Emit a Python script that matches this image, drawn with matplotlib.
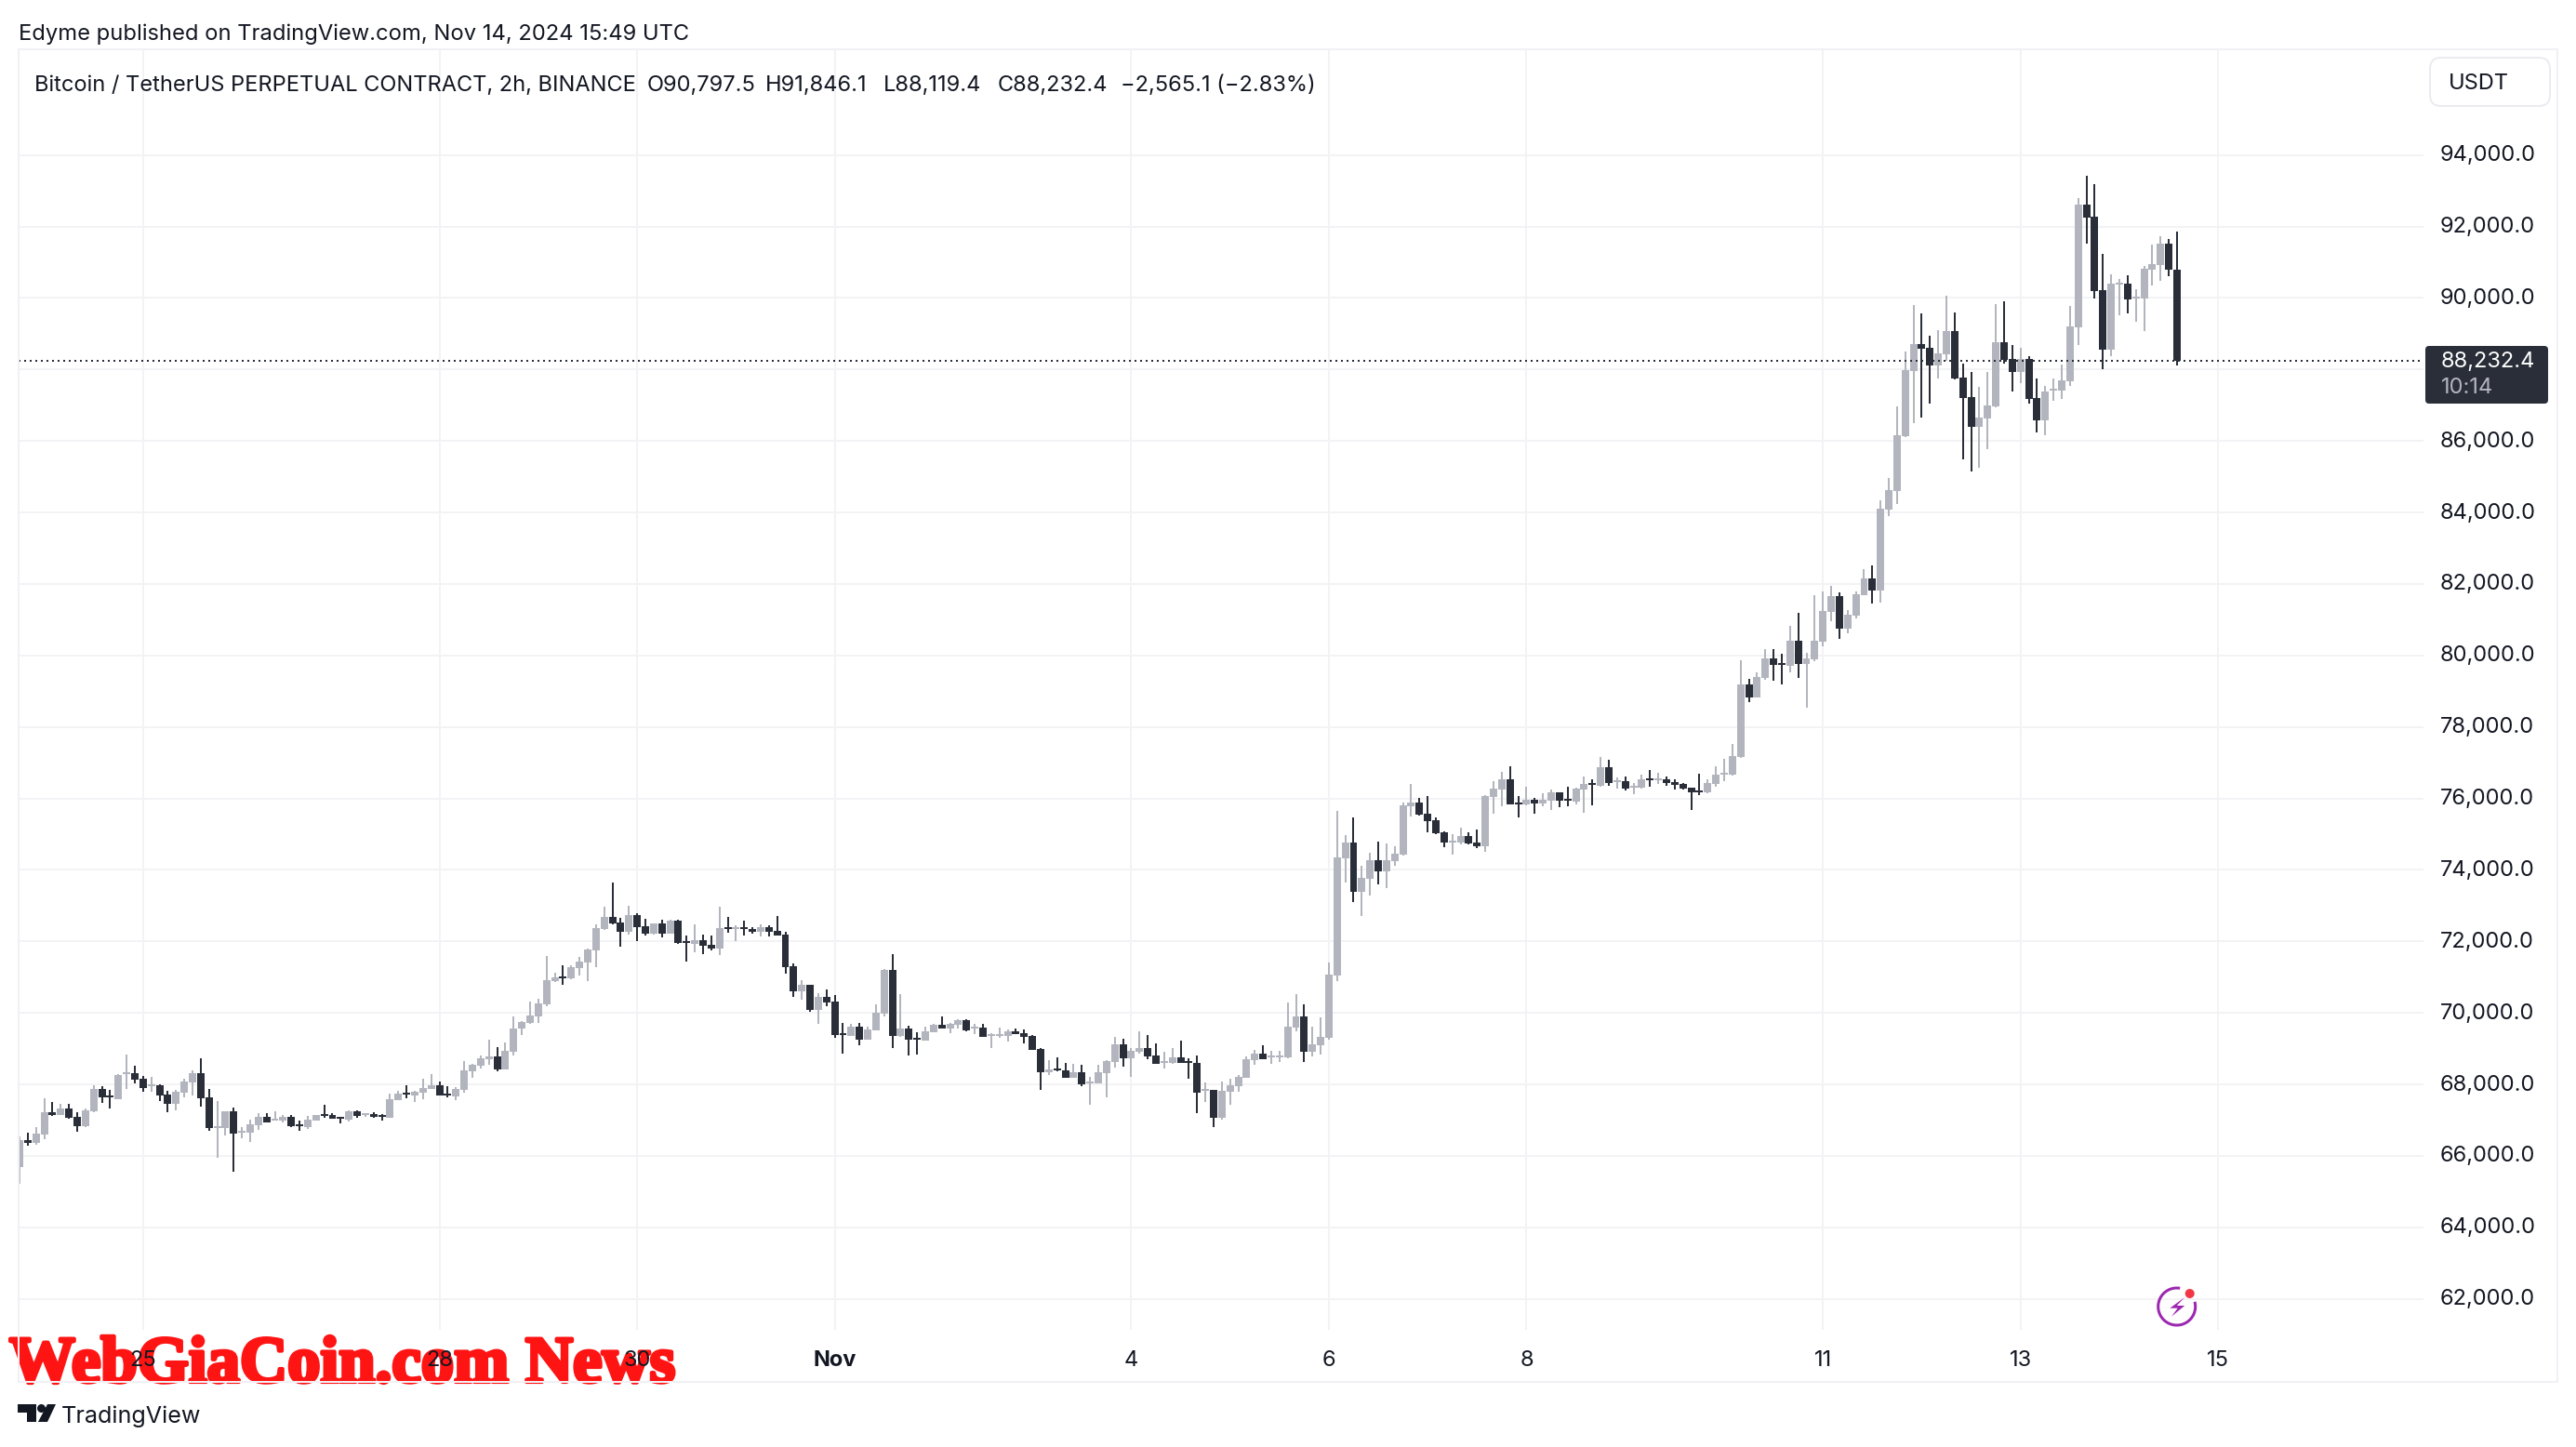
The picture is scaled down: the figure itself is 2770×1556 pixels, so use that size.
import matplotlib
matplotlib.use('Agg')
import matplotlib.pyplot as plt
import matplotlib.patheffects as pe
from matplotlib.patches import Rectangle, FancyBboxPatch, Polygon, Circle, Arc
from matplotlib.transforms import ScaledTranslation
import numpy as np

# BTCUSDT perpetual, 2h candles
opens = [
    65686, 66440, 66362, 66596, 67221, 67143, 67325, 67091, 66831, 67247,
    67871, 67689, 67585, 68287, 68313, 68157, 67958, 67975, 67715, 67455,
    67767, 68053, 68313, 67637, 66778, 66778, 67247, 66648, 66648, 66857,
    67091, 66987, 66987, 67091, 66883, 66804, 66987, 67169, 67143, 67091,
    67013, 67247, 67143, 67169, 67143, 67065, 67559, 67767, 67689, 67767,
    67872, 67976, 67742, 67664, 67846, 68366, 68522, 68705, 68783, 68418,
    68913, 69563, 69719, 69901, 70240, 70890, 71020, 70968, 71254, 71410,
    71749, 72347, 72685, 72529, 72269, 72737, 72425, 72217, 72503, 72217,
    72581, 72009, 71931, 72035, 71905, 71801, 72399, 72347, 72399, 72347,
    72269, 72399, 72295, 72191, 71306, 70604, 70786, 70083, 70448, 70318,
    69432, 69354, 69614, 69250, 69510, 69979, 71201, 69354, 69562, 69302,
    69224, 69458, 69666, 69562, 69666, 69796, 69562, 69588, 69354, 69354,
    69354, 69484, 69432, 69354, 68990, 68340, 68444, 68392, 68183, 68340,
    68027, 68027, 68314, 68626, 69120, 68730, 68912, 69016, 68808, 68600,
    68600, 68756, 68652, 68600, 67819, 67845, 67065, 67793, 67949, 68184,
    68678, 68861, 68757, 68757, 68757, 69589, 69901, 68913, 69095, 69303,
    71046, 74324, 74766, 73387, 73752, 74272, 73960, 74246, 74428, 75780,
    75884, 75572, 75391, 75052, 74766, 74766, 74948, 74766, 74662, 76040,
    76248, 76535, 75884, 75832, 75962, 75858, 75936, 76170, 75988, 75910,
    76248, 76431, 76352, 76873, 76457, 76483, 76300, 76300, 76561, 76509,
    76535, 76457, 76404, 76300, 76222, 76170, 76404, 76665, 76665, 77159,
    79188, 78824, 79370, 79917, 79787, 79709, 80411, 79761, 79891, 80385,
    81217, 81660, 80749, 81113, 81687, 82155, 81817, 84080, 84600, 86135,
    87956, 88711, 88607, 88113, 88425, 89075, 87774, 87228, 86395, 86630,
    86968, 88763, 88295, 87930, 88295, 87202, 86578, 87410, 87410, 87670,
    89179, 92613, 92275, 90220, 88555, 90376, 90402, 89986, 89986, 90792,
    90922, 91521, 90797.5,
]
highs = [
    66544, 66640, 66796, 67602, 67507, 67455, 67455, 67221, 67325, 67975,
    67949, 67845, 68287, 68834, 68522, 68235, 68209, 68001, 67819, 67845,
    68157, 68392, 68730, 67871, 67533, 67247, 67351, 66804, 67013, 67195,
    67195, 67247, 67143, 67143, 66987, 67117, 67143, 67429, 67195, 67091,
    67273, 67273, 67195, 67221, 67169, 67741, 67819, 67975, 67819, 68157,
    68288, 68080, 67950, 67924, 68653, 68575, 68809, 69251, 69043, 69173,
    69901, 69771, 70318, 70396, 71592, 71124, 71332, 71332, 71566, 71801,
    72477, 72971, 73648, 72659, 72997, 72789, 72633, 72503, 72607, 72607,
    72607, 72165, 72477, 72191, 72165, 72971, 72685, 72451, 72581, 72399,
    72477, 72451, 72711, 72269, 71384, 70916, 70786, 70552, 70656, 70500,
    69718, 69692, 69718, 69614, 70239, 71227, 71644, 70525, 69640, 69458,
    69614, 69692, 69901, 69718, 69822, 69822, 69692, 69692, 69432, 69588,
    69536, 69562, 69536, 69380, 69016, 68678, 68756, 68600, 68574, 68548,
    68209, 68548, 68678, 69328, 69276, 69016, 69484, 69380, 69146, 68912,
    69016, 69224, 68730, 68808, 68053, 67845, 68079, 68157, 68262, 68783,
    68965, 69095, 68939, 68939, 70291, 70526, 70239, 69615, 69875, 71410,
    75651, 74974, 75469, 74116, 74480, 74792, 74740, 74662, 75885, 76404,
    76014, 76066, 75468, 75078, 75000, 75183, 75052, 75131, 76092, 76482,
    76743, 76899, 76066, 76326, 76014, 76144, 76248, 76170, 76326, 76300,
    76613, 76535, 77159, 77081, 76587, 76613, 76431, 76665, 76795, 76717,
    76613, 76535, 76431, 76300, 76691, 76535, 76899, 77107, 77523, 79865,
    79344, 79526, 80177, 80177, 80047, 80827, 81191, 80073, 81686, 81790,
    81946, 81764, 81269, 81790, 82415, 82519, 84340, 84965, 86968, 88503,
    89804, 89569, 88945, 89101, 90064, 89595, 88165, 87930, 87514, 87930,
    89830, 89908, 88685, 88607, 88373, 87748, 87540, 87748, 88139, 89778,
    92795, 93420, 93186, 91234, 90662, 90532, 90636, 90246, 90896, 91495,
    91729, 91651, 91846.1,
]
lows = [
    65226, 66293, 66319, 66475, 67117, 67143, 67039, 66675, 66804, 67221,
    67481, 67325, 67585, 67871, 68027, 67793, 67793, 67533, 67221, 67273,
    67637, 67689, 67377, 66701, 65946, 66570, 65556, 66492, 66388, 66727,
    66935, 66987, 66935, 66804, 66700, 66753, 66987, 67065, 67039, 66909,
    66961, 67065, 67091, 67065, 66987, 67065, 67559, 67611, 67507, 67585,
    67872, 67690, 67638, 67560, 67768, 68184, 68445, 68549, 68366, 68418,
    68809, 69381, 69693, 69719, 70187, 70864, 70786, 70942, 71046, 70890,
    71280, 72321, 72477, 71853, 72191, 72009, 72165, 72191, 72113, 72217,
    71931, 71436, 71696, 71644, 71749, 71618, 72243, 72009, 72165, 72217,
    72139, 72139, 72165, 71098, 70448, 70370, 70031, 69693, 70187, 69303,
    68860, 69354, 69094, 69250, 69510, 69901, 69016, 69328, 68808, 68834,
    69224, 69458, 69562, 69432, 69562, 69484, 69406, 69328, 69016, 69302,
    69198, 69406, 69146, 68964, 67845, 68262, 68366, 68183, 68183, 67949,
    67429, 68027, 67637, 68470, 68496, 68209, 68860, 68704, 68574, 68444,
    68574, 68600, 68157, 67195, 67507, 66804, 67013, 67429, 67793, 68184,
    68548, 68705, 68574, 68626, 68731, 69485, 68626, 68783, 68835, 69251,
    70890, 73648, 73101, 72711, 73283, 73596, 73491, 74116, 74402, 75494,
    75520, 75052, 75000, 74636, 74428, 74714, 74714, 74610, 74506, 75572,
    75780, 75832, 75468, 75806, 75572, 75780, 75676, 75754, 75780, 75832,
    75598, 75806, 76326, 76352, 76274, 76222, 76118, 76274, 76326, 76404,
    76352, 76248, 76248, 75676, 76092, 76144, 76326, 76482, 76639, 77133,
    78694, 78824, 79318, 79292, 79188, 79526, 79370, 78538, 79839, 80255,
    80957, 80463, 80619, 81035, 81687, 81452, 81479, 83898, 84236, 86109,
    86500, 86656, 87046, 87748, 88243, 87722, 85485, 85147, 85251, 85771,
    86942, 88165, 87384, 87618, 87046, 86239, 86161, 87124, 87176, 87540,
    88685, 91521, 89986, 88008, 88373, 89517, 89569, 89335, 89075, 90350,
    90480, 90610, 88119.4,
]
closes = [
    66440, 66362, 66622, 67221, 67143, 67325, 67065, 66831, 67273, 67871,
    67637, 67637, 68261, 68340, 68131, 67897, 68001, 67689, 67455, 67793,
    68079, 68313, 67611, 66778, 66831, 67247, 66622, 66700, 66883, 67091,
    66935, 67039, 67091, 66831, 66831, 67013, 67143, 67117, 67039, 67039,
    67247, 67117, 67195, 67091, 67091, 67585, 67741, 67724, 67793, 67897,
    67976, 67690, 67690, 67872, 68392, 68549, 68731, 68783, 68418, 68939,
    69563, 69745, 69927, 70266, 70916, 70994, 70968, 71280, 71436, 71775,
    72373, 72685, 72503, 72269, 72737, 72399, 72217, 72503, 72217, 72581,
    71957, 71957, 72035, 71879, 71801, 72373, 72347, 72399, 72347, 72269,
    72399, 72269, 72165, 71280, 70604, 70786, 70083, 70448, 70292, 69381,
    69380, 69614, 69250, 69536, 70005, 71201, 69354, 69562, 69250, 69250,
    69484, 69666, 69562, 69692, 69796, 69510, 69614, 69328, 69406, 69406,
    69484, 69406, 69328, 68964, 68340, 68418, 68392, 68183, 68340, 68001,
    68079, 68340, 68652, 69120, 68730, 68938, 69016, 68782, 68574, 68652,
    68756, 68600, 68600, 67767, 67871, 67065, 67819, 67975, 68209, 68705,
    68861, 68705, 68809, 68809, 69615, 69901, 68913, 69121, 69329, 71072,
    74350, 74766, 73387, 73778, 74272, 73960, 74272, 74454, 75807, 75884,
    75546, 75364, 75026, 74766, 74818, 74948, 74740, 74662, 76066, 76274,
    76535, 75832, 75832, 75962, 75858, 75962, 76170, 75936, 75936, 76274,
    76404, 76378, 76873, 76431, 76509, 76274, 76352, 76535, 76509, 76561,
    76431, 76378, 76274, 76170, 76170, 76431, 76665, 76717, 77185, 79188,
    78824, 79396, 79917, 79734, 79734, 80411, 79761, 79917, 80411, 81243,
    81660, 80749, 81139, 81712, 82155, 81817, 84106, 84626, 86161, 87982,
    88711, 88581, 88113, 88451, 89075, 87748, 87202, 86395, 86656, 86994,
    88763, 88269, 87930, 88295, 87176, 86578, 87384, 87462, 87696, 89205,
    92613, 92249, 90194, 88555, 90402, 90428, 89960, 90038, 90818, 90948,
    91521, 90797.5, 88232.4,
]

price_ticks = [62000, 64000, 66000, 68000, 70000, 72000, 74000, 76000, 78000,
               80000, 82000, 84000, 86000, 88000, 90000, 92000, 94000]
# candle number of each midnight that has a date label
date_ticks = [15, 51, 75, 99, 135, 159, 183, 219, 243, 267]
date_labels = ['25', '28', '30', 'Nov', '4', '6', '8', '11', '13', '15']

UP = '#b2b5be'
DOWN = '#2a2e39'
GRID = '#f3f3f5'
BORDER = '#f0f0f5'
TEXT = '#131722'
W, H = 2770, 1556

plt.rcParams['font.family'] = ['Inter', 'DejaVu Sans']

fig = plt.figure(figsize=(W / 100, H / 100), dpi=100, facecolor='white')

# chart pane, from pixel 20 to 2606 across and 53 to 1430 down
ax = fig.add_axes([20 / W, 1 - 1430 / H, (2606 - 20) / W, (1430 - 53) / H])
ax.set_xlim(-0.113, 291.93)
ax.set_ylim(61134, 96957)
for s in ax.spines.values():
    s.set_visible(False)

o = np.array(opens)
c = np.array(closes)
x = np.arange(len(o))
colors = np.where(c >= o, UP, DOWN)

ax.vlines(x, lows, highs, colors=colors, linewidth=1.44, zorder=3)
ax.bar(x, np.abs(c - o), bottom=np.minimum(o, c), width=0.9, color=colors,
       linewidth=0, antialiased=False, zorder=4)
ax.axhline(closes[-1], color=DOWN, linewidth=1.44, linestyle=(0, (1, 2)), zorder=5)

ax.set_axisbelow(True)
ax.grid(True, color=GRID, linewidth=1.44)
ax.yaxis.tick_right()
ax.set_yticks(price_ticks)
# 88,000 sits behind the last price tag
ax.set_yticklabels(['' if p == 88000 else f'{p:,.1f}' for p in price_ticks],
                   fontsize=17, color=TEXT)
ax.set_xticks(date_ticks)
ax.set_xticklabels(date_labels, fontsize=17, color=TEXT)
ax.get_xticklabels()[3].set_fontweight('bold')
ax.tick_params(length=0)
ax.tick_params(axis='y', pad=13)
ax.tick_params(axis='x', pad=16)
up_shift = ScaledTranslation(0, 2 / 100, fig.dpi_scale_trans)
for t in ax.yaxis.get_major_ticks():
    t.label2.set_transform(t.label2.get_transform() + up_shift)

# everything that is not data goes on a full size overlay in pixels
top = fig.add_axes([0, 0, 1, 1], facecolor='none')
top.set_xlim(0, W)
top.set_ylim(H, 0)
top.axis('off')

top.add_patch(Rectangle((20, 53), 2730, 1433, fill=False, edgecolor=BORDER, linewidth=1.44))

top.text(20, 37, 'Edyme published on TradingView.com, Nov 14, 2024 15:49 UTC',
         fontsize=17.1, color=TEXT, va='center')
legend_parts = [(37, 'Bitcoin / TetherUS PERPETUAL CONTRACT, 2h, BINANCE'),
                (696, 'O90,797.5'), (823, 'H91,846.1'), (950, 'L88,119.4'),
                (1073, 'C88,232.4'), (1205, '\u22122,565.1 (\u22122.83%)')]
for px, s in legend_parts:
    top.text(px, 92, s, fontsize=17, color=TEXT, va='center')

top.add_patch(FancyBboxPatch((2621, 70), 113, 36, boxstyle='round,pad=8,rounding_size=12',
                             facecolor='white', edgecolor='#ebebf0', linewidth=1.44))
top.text(2633, 90, 'USDT', fontsize=17, color=TEXT, va='center')

top.add_patch(FancyBboxPatch((2610, 374), 128, 58, boxstyle='round,pad=2,rounding_size=4',
                             facecolor=DOWN, edgecolor='none'))
top.text(2625, 389, '88,232.4', fontsize=17, color='white', va='center')
top.text(2625, 417, '10:14', fontsize=17, color='#b2b5be', va='center')

# lightning badge
top.add_patch(Arc((2340.7, 1405), 40, 40, theta1=-15, theta2=280, color='#9c27b0', linewidth=2.16))
top.add_patch(Polygon([(2349.3, 1395), (2333.3, 1406.7), (2341.7, 1406.7), (2335, 1415.7),
                       (2349.3, 1404), (2340.7, 1404)], closed=True, color='#9c27b0', linewidth=0))
top.add_patch(Circle((2354.7, 1391), 5, color='#f23645', linewidth=0))

# TradingView logo
top.add_patch(Polygon([(19, 1510), (39, 1510), (39, 1529), (29, 1529), (29, 1519), (19, 1519)],
                      closed=True, color=TEXT, linewidth=0))
top.add_patch(Circle((44.5, 1514.5), 4.5, color=TEXT, linewidth=0))
top.add_patch(Polygon([(51, 1510), (60, 1510), (51, 1529), (41, 1529)], closed=True, color=TEXT, linewidth=0))
top.text(66, 1523, 'TradingView', fontsize=18.1, color=TEXT, va='center')

# watermark goes under the date labels
fig.text(10, 1486, 'WebGiaCoin.com News', transform=top.transData, zorder=-1,
         fontsize=51, family='Liberation Serif', fontweight='bold',
         color='#ff1414', va='baseline',
         path_effects=[pe.withStroke(linewidth=3, foreground='#ff1414')])

fig.savefig('out.png', dpi=100, facecolor='white')
